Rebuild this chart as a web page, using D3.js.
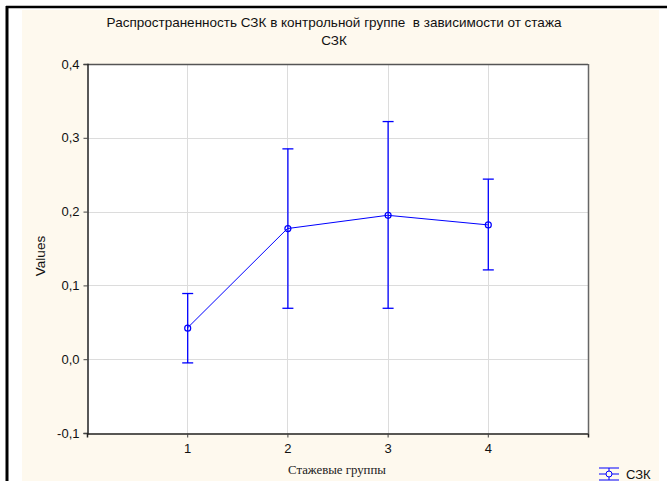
<!DOCTYPE html>
<html>
<head>
<meta charset="utf-8">
<script src="https://cdn.jsdelivr.net/npm/d3@7"></script>
<style>
  html, body { margin: 0; padding: 0; background: #ffffff; }
  svg { display: block; }
</style>
</head>
<body>
<svg id="chart" width="667" height="481"></svg>
<script>
// Стажевые группы и средние значения с доверительными интервалами
const groups = [1, 2, 3, 4];
const means = [0.042, 0.177, 0.195, 0.182];
const upper = [0.089, 0.285, 0.322, 0.244];
const lower = [-0.005, 0.069, 0.069, 0.121];
const yTicks = [-0.1, 0.0, 0.1, 0.2, 0.3, 0.4];
const xTicks = [1, 2, 3, 4];
const titleLines = ["Распространенность СЗК в контрольной группе  в зависимости от стажа", "СЗК"];
const seriesName = "СЗК";

const svg = d3.select("#chart");
const W = 667, H = 481;
const plot = { left: 87, right: 588, top: 64, bottom: 433 };
const sans = "'Liberation Sans', Arial, sans-serif";

// frame and background
svg.append("rect").attr("x", 0).attr("y", 0).attr("width", W).attr("height", H).attr("fill", "#ffffff");
svg.append("rect").attr("x", 22).attr("y", 10).attr("width", 637).attr("height", H - 10).attr("fill", "#fef9ee");
svg.append("line").attr("x1", 7).attr("x2", 7).attr("y1", 6).attr("y2", H).attr("stroke", "#000").attr("stroke-width", 3);
svg.append("line").attr("x1", 6).attr("x2", W).attr("y1", 7).attr("y2", 7).attr("stroke", "#000").attr("stroke-width", 2.5);

const x = d3.scaleLinear().domain([0, 5]).range([plot.left, plot.right]);
const y = d3.scaleLinear().domain([-0.1, 0.4]).range([plot.bottom, plot.top]);

// plot area
svg.append("rect").attr("x", plot.left).attr("y", plot.top)
  .attr("width", plot.right - plot.left).attr("height", plot.bottom - plot.top).attr("fill", "#ffffff");

// grid
const grid = svg.append("g").attr("stroke", "#dcdcdc").attr("stroke-width", 1);
yTicks.slice(1, -1).forEach(v => {
  grid.append("line").attr("x1", plot.left).attr("x2", plot.right)
    .attr("y1", Math.round(y(v)) + 0.5).attr("y2", Math.round(y(v)) + 0.5);
});
xTicks.forEach(v => {
  grid.append("line").attr("y1", plot.top).attr("y2", plot.bottom)
    .attr("x1", Math.round(x(v)) + 0.5).attr("x2", Math.round(x(v)) + 0.5);
});

// border of plot area
svg.append("line").attr("x1", plot.left).attr("x2", plot.right).attr("y1", plot.top + 0.5).attr("y2", plot.top + 0.5).attr("stroke", "#555").attr("stroke-width", 1.5);
svg.append("line").attr("x1", plot.right + 0.5).attr("x2", plot.right + 0.5).attr("y1", plot.top).attr("y2", plot.bottom).attr("stroke", "#666").attr("stroke-width", 1.5);

// axes
const fmt = d => d3.format(".1f")(d).replace(".", ",").replace("−", "-");
const yAxis = d3.axisLeft(y).tickValues(yTicks).tickSize(4).tickPadding(4).tickFormat(fmt);
const gy = svg.append("g").attr("transform", `translate(${plot.left + 0.5},0)`).call(yAxis);
const xAxis = d3.axisBottom(x).tickValues(xTicks).tickSize(4).tickPadding(6).tickFormat(d3.format("d"));
const gx = svg.append("g").attr("transform", `translate(0,${plot.bottom + 0.5})`).call(xAxis);
[gy, gx].forEach(g => {
  g.select(".domain").attr("stroke", "#222").attr("stroke-width", 1.5);
  g.selectAll(".tick line").attr("stroke", "#444");
  g.selectAll("text").attr("font-family", sans).attr("font-size", 13).attr("fill", "#111");
});

// titles
const title = svg.append("text").attr("text-anchor", "middle").style("white-space", "pre")
  .attr("font-family", sans).attr("font-size", 13.5).attr("fill", "#111");
title.selectAll("tspan").data(titleLines).join("tspan")
  .attr("x", 334).attr("y", (d, i) => 27 + i * 18).text(d => d);

svg.append("text").attr("transform", "translate(45,256) rotate(-90)").attr("text-anchor", "middle")
  .attr("font-family", sans).attr("font-size", 13.5).attr("fill", "#111")
  .text("Values");

svg.append("text").attr("x", 337).attr("y", 474).attr("text-anchor", "middle")
  .attr("font-family", "'Liberation Serif', 'Times New Roman', serif").attr("font-size", 12.8).attr("fill", "#222")
  .text("Стажевые группы");

// series
const blue = "#0000ff";
const data = groups.map((g, i) => ({ g, m: means[i], hi: upper[i], lo: lower[i] }));
const series = svg.append("g");
series.append("path").datum(data)
  .attr("d", d3.line().x(d => x(d.g)).y(d => y(d.m)))
  .attr("fill", "none").attr("stroke", blue).attr("stroke-width", 1);
const bars = series.selectAll("g.err").data(data).join("g").attr("class", "err");
bars.append("line").attr("x1", d => x(d.g) + 0.5).attr("x2", d => x(d.g) + 0.5)
  .attr("y1", d => y(d.hi)).attr("y2", d => y(d.lo)).attr("stroke", blue).attr("stroke-width", 1.3);
bars.append("line").attr("x1", d => x(d.g) - 5).attr("x2", d => x(d.g) + 6)
  .attr("y1", d => y(d.hi)).attr("y2", d => y(d.hi)).attr("stroke", blue).attr("stroke-width", 1.3);
bars.append("line").attr("x1", d => x(d.g) - 5).attr("x2", d => x(d.g) + 6)
  .attr("y1", d => y(d.lo)).attr("y2", d => y(d.lo)).attr("stroke", blue).attr("stroke-width", 1.3);
bars.append("circle").attr("cx", d => x(d.g) + 0.5).attr("cy", d => y(d.m)).attr("r", 3)
  .attr("fill", "none").attr("stroke", blue).attr("stroke-width", 1.2);

// legend
const lg = svg.append("g").attr("transform", "translate(609,474)");
lg.append("line").attr("x1", -10).attr("x2", 10).attr("y1", 0).attr("y2", 0).attr("stroke", blue);
lg.append("line").attr("x1", -10).attr("x2", 10).attr("y1", -6).attr("y2", -6).attr("stroke", blue);
lg.append("line").attr("x1", -10).attr("x2", 10).attr("y1", 6).attr("y2", 6).attr("stroke", blue);
lg.append("line").attr("x1", 0).attr("x2", 0).attr("y1", -6).attr("y2", 6).attr("stroke", blue);
lg.append("circle").attr("r", 3).attr("fill", "#fef9ee").attr("stroke", blue);
lg.append("text").attr("x", 17).attr("y", 4.5)
  .attr("font-family", sans).attr("font-size", 13).attr("fill", "#111")
  .text(seriesName);
</script>
</body>
</html>
